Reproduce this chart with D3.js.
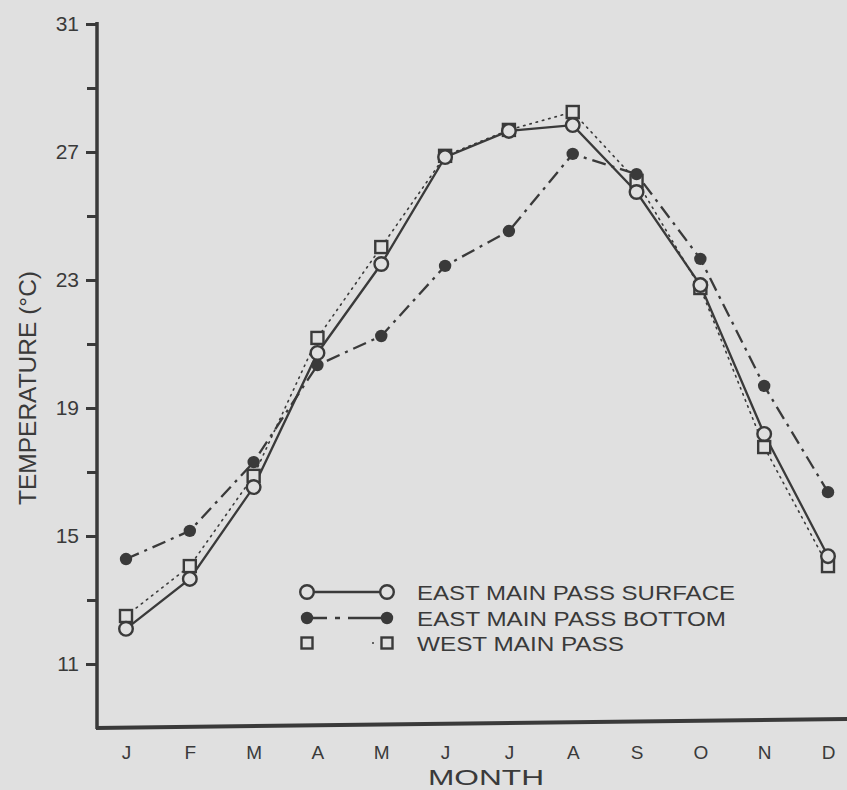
<!DOCTYPE html>
<html><head><meta charset="utf-8">
<script src="https://cdn.jsdelivr.net/npm/d3@7/dist/d3.min.js"></script>
<style>
html,body{margin:0;padding:0;background:#e0e0e0;}
svg{display:block;}
text{font-family:"Liberation Sans",Arial,sans-serif;fill:#3a3a3a;}
</style></head>
<body>
<svg id="chart" width="847" height="790"></svg>
<script>
const months = ["Jan","Feb","Mar","Apr","May","Jun","Jul","Aug","Sep","Oct","Nov","Dec"];
const monthLabels = ["J","F","M","A","M","J","J","A","S","O","N","D"];
const surface = [12.1,13.66,16.53,20.72,23.5,26.84,27.66,27.84,25.75,22.84,18.19,14.37];
const bottom  = [14.28,15.16,17.31,20.34,21.25,23.44,24.53,26.94,26.31,23.66,19.69,16.37];
const west    = [12.5,14.06,16.88,21.19,24.03,26.88,27.69,28.25,26.1,22.75,17.78,14.06];
const yTickLabels = [11,15,19,23,27,31];
const yMinorTicks = [13,17,21,25,29];
const seriesNames = ["EAST MAIN PASS SURFACE","EAST MAIN PASS BOTTOM","WEST MAIN PASS"];

const ink = "#3a3a3a", bg = "#e0e0e0";
const svg = d3.select("#chart");
const x = d3.scalePoint().domain(months).range([126, 828]);
const y = d3.scaleLinear().domain([9, 31]).range([728, 24]);

// axes
const yAxis = d3.axisLeft(y).tickValues(yTickLabels).tickSize(11).tickPadding(7).tickFormat(d3.format("d"));
const gy = svg.append("g").attr("transform","translate(97,0)").call(yAxis);
gy.select(".domain").remove();
gy.selectAll(".tick line").attr("stroke", ink).attr("stroke-width", 3);
gy.selectAll(".tick text").attr("font-size", 21).style("fill", ink).attr("font-family","Liberation Sans, Arial, sans-serif");
const gyMinor = svg.append("g").attr("transform","translate(97,0)")
  .call(d3.axisLeft(y).tickValues(yMinorTicks).tickSize(10).tickFormat(""));
gyMinor.select(".domain").remove();
gyMinor.selectAll(".tick line").attr("stroke", ink).attr("stroke-width", 3);

svg.append("line").attr("x1",97).attr("x2",97).attr("y1",y(31)-2).attr("y2",y(9)+1)
  .attr("stroke",ink).attr("stroke-width",3.5);
svg.append("line").attr("x1",96).attr("x2",847).attr("y1",y(9)).attr("y2",y(9)-9)
  .attr("stroke",ink).attr("stroke-width",4);

// month labels via axis
const xAxis = d3.axisBottom(x).tickSize(0).tickPadding(18).tickFormat((d,i)=>monthLabels[i]);
const gx = svg.append("g").attr("transform","translate(0,728)").call(xAxis);
gx.select(".domain").remove();
gx.selectAll(".tick text").attr("font-size", 19).style("fill", ink).attr("font-family","Liberation Sans, Arial, sans-serif");

svg.append("text").attr("x",486).attr("y",785).attr("text-anchor","middle")
  .attr("font-size",22).attr("textLength",116).attr("lengthAdjust","spacingAndGlyphs").text("MONTH");
svg.append("text").attr("transform","translate(36,388) rotate(-90)").attr("text-anchor","middle")
  .attr("font-size",24).attr("textLength",234).attr("lengthAdjust","spacingAndGlyphs").text("TEMPERATURE (°C)");

// lines
const line = d3.line().x((d,i)=>x(months[i])).y(d=>y(d));
svg.append("path").datum(west).attr("d",line).attr("fill","none").attr("stroke",ink)
  .attr("stroke-width",1.6).attr("stroke-dasharray","1.5,5").attr("stroke-linecap","round");
svg.append("path").datum(bottom).attr("d",line).attr("fill","none").attr("stroke",ink)
  .attr("stroke-width",2.3).attr("stroke-dasharray","14,6,3,6");
svg.append("path").datum(surface).attr("d",line).attr("fill","none").attr("stroke",ink)
  .attr("stroke-width",2.3);

// markers
svg.append("g").selectAll("rect").data(west).join("rect")
  .attr("x",(d,i)=>x(months[i])-6).attr("y",d=>y(d)-6).attr("width",12).attr("height",12)
  .attr("fill",bg).attr("stroke",ink).attr("stroke-width",2.4);
svg.append("g").selectAll("circle").data(surface).join("circle")
  .attr("cx",(d,i)=>x(months[i])).attr("cy",d=>y(d)).attr("r",6.8)
  .attr("fill",bg).attr("stroke",ink).attr("stroke-width",2.4);
svg.append("g").selectAll("circle").data(bottom).join("circle")
  .attr("cx",(d,i)=>x(months[i])).attr("cy",d=>y(d)).attr("r",6.2)
  .attr("fill",ink);

// legend
const lg = svg.append("g");
const lx1 = 307, lx2 = 387, tx = 417;
const ly = [592, 618, 643];
lg.append("line").attr("x1",lx1).attr("x2",lx2).attr("y1",ly[0]).attr("y2",ly[0]).attr("stroke",ink).attr("stroke-width",2.3);
[lx1,lx2].forEach(cx=>lg.append("circle").attr("cx",cx).attr("cy",ly[0]).attr("r",6.8).attr("fill",bg).attr("stroke",ink).attr("stroke-width",2.4));
lg.append("line").attr("x1",lx1).attr("x2",lx2).attr("y1",ly[1]).attr("y2",ly[1]).attr("stroke",ink).attr("stroke-width",2.3).attr("stroke-dasharray","20,8,5,8,40");
[lx1,lx2].forEach(cx=>lg.append("circle").attr("cx",cx).attr("cy",ly[1]).attr("r",6.2).attr("fill",ink));
lg.append("circle").attr("cx",373).attr("cy",ly[2]).attr("r",1).attr("fill",ink);
[lx1,lx2].forEach(cx=>lg.append("rect").attr("x",cx-5.5).attr("y",ly[2]-5.5).attr("width",11).attr("height",11).attr("fill",bg).attr("stroke",ink).attr("stroke-width",2.4));
const legendLengths = [318, 309, 207];
seriesNames.forEach((n,i)=>lg.append("text").attr("x",tx).attr("y",ly[i]+8).attr("font-size",20.5)
  .attr("textLength",legendLengths[i]).attr("lengthAdjust","spacingAndGlyphs").text(n));
</script>
</body></html>
